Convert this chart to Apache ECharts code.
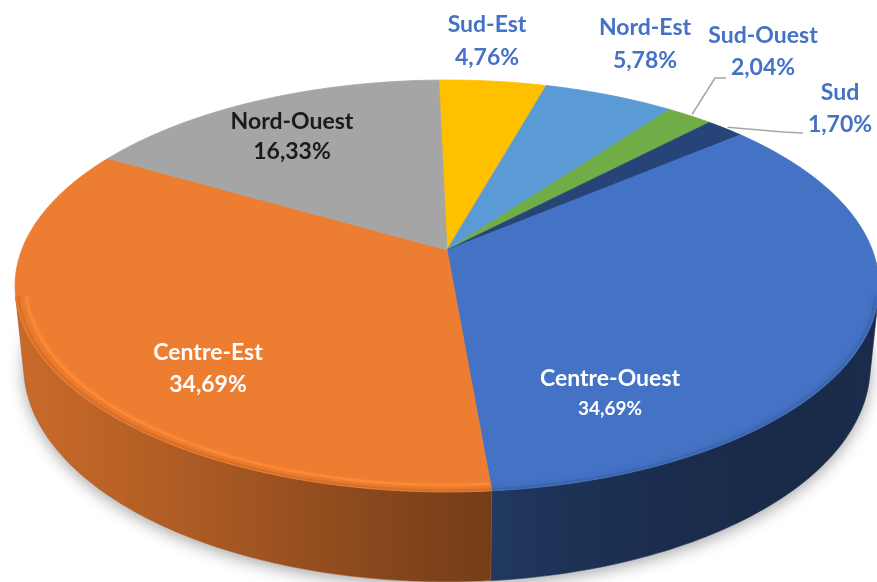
<!DOCTYPE html>
<html>
<head>
<meta charset="utf-8">
<script src="https://cdn.jsdelivr.net/npm/echarts@6/dist/echarts.min.js"></script>
<style>
  html, body { margin: 0; padding: 0; background: #fff; }
  #chart { width: 877px; height: 582px; }
</style>
</head>
<body>
<div id="chart"></div>
<script>
// slices, clockwise starting from the back of the pie
const regions = ['Sud-Est', 'Nord-Est', 'Sud-Ouest', 'Sud', 'Centre-Ouest', 'Centre-Est', 'Nord-Ouest'];
const shares = [4.76, 5.78, 2.04, 1.70, 34.69, 34.69, 16.33];
const shareLabels = ['4,76%', '5,78%', '2,04%', '1,70%', '34,69%', '34,69%', '16,33%'];
const colors = ['#FFC000', '#5B9BD5', '#70AD47', '#264478', '#4472C4', '#ED7D31', '#A5A5A5'];

// label placement (pixels) - layout only
const blue = '#4472C4';
const labelLayout = [
  { x: 487, y1: 25, y2: 58, color: blue, size: 23, size2: 23 },
  { x: 645, y1: 28, y2: 61, color: blue, size: 23, size2: 23 },
  { x: 763, y1: 36, y2: 68, color: blue, size: 23, size2: 23, leader: [[715, 78], [726, 78]] },
  { x: 840, y1: 93, y2: 125, color: blue, size: 23, size2: 23, leader: [[783, 132], [803, 133]] },
  { x: 610, y1: 379, y2: 409, color: '#fff', size: 23, size2: 19 },
  { x: 208, y1: 353, y2: 385, color: '#fff', size: 23, size2: 23 },
  { x: 292, y1: 122, y2: 152, color: '#1a1a1a', size: 23, size2: 23 }
];

// simple perspective camera for the tilted disc
const cam = { cx: 447, cy: 250, D: 5.053, F: 2149, tilt: 28 * Math.PI / 180, h: 0.215, start: -1.3 };
const sT = Math.sin(cam.tilt), cT = Math.cos(cam.tilt);
function proj(r, deg, y) {
  const a = deg * Math.PI / 180;
  const X = r * Math.sin(a), Z = r * Math.cos(a), Y = y || 0;
  const depth = cam.D - Y * sT + Z * cT;
  const up = Y * cT + Z * sT;
  return [cam.cx + cam.F * X / depth, cam.cy - cam.F * up / depth];
}

const total = shares.reduce((a, b) => a + b, 0);
const startAngles = [];
let acc = 0;
shares.forEach(v => { startAngles.push(cam.start + 360 * acc / total); acc += v; });

// visible part of the rim
const visEdge = Math.acos(-1 / (cam.D * cT)) * 180 / Math.PI;
const visA = visEdge, visB = 360 - visEdge;

function hexRgb(h) {
  return [parseInt(h.slice(1, 3), 16), parseInt(h.slice(3, 5), 16), parseInt(h.slice(5, 7), 16)];
}
function shade(h, f, alpha) {
  const c = hexRgb(h).map(v => Math.max(0, Math.min(255, Math.round(v * f))));
  return 'rgba(' + c.join(',') + ',' + (alpha == null ? 1 : alpha) + ')';
}
function light(deg) {
  const a = deg * Math.PI / 180;
  return 0.651 - 0.237 * Math.sin(a) + 0.141 * Math.cos(a);
}
function rimPts(r, a0, a1, y) {
  const pts = [];
  for (let a = a0; a < a1; a += 1) pts.push(proj(r, a, y));
  pts.push(proj(r, a1, y));
  return pts;
}

function renderItem(params, api) {
  const i = params.dataIndex;
  const a0 = startAngles[i];
  const a1 = a0 + 360 * api.value(0) / total;
  const col = colors[i];
  const children = [];

  if (i === 0) {
    // soft shadow under the pie
    children.push({
      type: 'polygon', z2: -5,
      shape: { points: rimPts(1, 0, 360, -cam.h) },
      style: { fill: '#fff', shadowBlur: 16, shadowColor: 'rgba(0,0,0,0.35)', shadowOffsetY: 4 }
    });
  }

  // outer side wall
  const s0 = Math.max(a0, visA), s1 = Math.min(a1, visB);
  if (s1 > s0) {
    const top = rimPts(1, s0, s1, 0);
    const bot = rimPts(1, s0, s1, -cam.h).reverse();
    const xa = proj(1, s0)[0], xb = proj(1, s1)[0];
    const stops = [];
    const n = Math.max(2, Math.ceil((s1 - s0) / 8));
    for (let k = 0; k <= n; k++) {
      const a = s0 + (s1 - s0) * k / n;
      stops.push({ offset: k / n, color: shade(col, light(a)) });
    }
    children.push({
      type: 'polygon', z2: 0,
      shape: { points: top.concat(bot) },
      style: {
        fill: new echarts.graphic.LinearGradient(xa, 0, xb, 0, stops, true),
        stroke: shade(col, light((s0 + s1) / 2)), lineWidth: 0.6
      }
    });
    // soft bevel on the front rim, brighter where the light hits
    const lit = Math.max(0, Math.min(0.85, (light((s0 + s1) / 2) - 0.45) * 3.5));
    children.push({
      type: 'polyline', z2: 12,
      shape: { points: rimPts(0.994, s0, s1, 0) },
      style: { stroke: shade(col, 0.85, 0.6), lineWidth: 2, fill: null, shadowBlur: 4, shadowColor: shade(col, 0.7, 0.6) }
    });
    if (lit > 0) {
      children.push({
        type: 'polyline', z2: 13,
        shape: { points: rimPts(0.976, s0, s1, 0) },
        style: { stroke: shade(col, 1.12, lit), lineWidth: 2.5, fill: null, shadowBlur: 5, shadowColor: shade(col, 1.12, lit) }
      });
    }
  }

  // top face
  children.push({
    type: 'polygon', z2: 10,
    shape: { points: [proj(0, 0)].concat(rimPts(1, a0, a1, 0)) },
    style: { fill: col, stroke: col, lineWidth: 0.8 }
  });

  // labels
  const L = labelLayout[i];
  const font = 'Lato, "Open Sans", sans-serif';
  children.push({
    type: 'text', z2: 30,
    style: { text: regions[i], x: L.x, y: L.y1, fill: L.color, fontFamily: font, fontWeight: 'bold', fontSize: L.size, align: 'center', verticalAlign: 'middle' }
  });
  children.push({
    type: 'text', z2: 30,
    style: { text: shareLabels[i], x: L.x, y: L.y2, fill: L.color, fontFamily: font, fontWeight: 'bold', fontSize: L.size2, align: 'center', verticalAlign: 'middle' }
  });
  if (L.leader) {
    const mid = (a0 + a1) / 2;
    children.push({
      type: 'polyline', z2: 25,
      shape: { points: [proj(1.01, mid)].concat(L.leader) },
      style: { stroke: '#A6A6A6', lineWidth: 1.5, fill: null }
    });
  }

  return { type: 'group', children: children };
}

const chart = echarts.init(document.getElementById('chart'));
chart.setOption({
  animation: false,
  series: [{
    type: 'custom',
    coordinateSystem: 'none',
    renderItem: renderItem,
    data: shares
  }]
});
</script>
</body>
</html>
